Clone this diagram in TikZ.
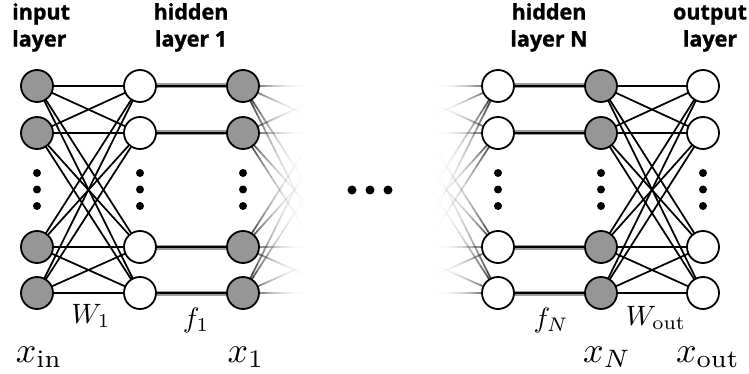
\documentclass[tikz,border=0pt]{standalone}
\usepackage{fontspec}
\setsansfont{Open Sans}[BoldFeatures={FakeBold=1.2}]
\usetikzlibrary{calc}
\pgfdeclarelayer{edges}
\pgfsetlayers{edges,main}

\definecolor{unitfill}{RGB}{150,150,150}
\definecolor{halo}{RGB}{155,155,155}

\newcommand{\varsize}[1]{\scalebox{3.6}{#1}}
\newcommand{\opsize}[1]{\scalebox{2.8}{#1}}

\tikzset{
  unit/.style={circle, draw=black, line width=1.8pt, minimum size=32pt, inner sep=0pt},
  filled/.style={unit, fill=unitfill},
  hollow/.style={unit, fill=white},
  vdot/.style={circle, fill=black, inner sep=0pt, minimum size=8pt},
  hdot/.style={circle, fill=black, inner sep=0pt, minimum size=9pt},
  weight/.style={line width=1.75pt, black},
  actglow/.style={line width=5pt, halo},
  actcore/.style={line width=2pt, black},
  fadeedge/.style={line width=1.75pt, black},
  layertitle/.style={font=\sffamily\bfseries\fontsize{21.5}{27}\selectfont, inner sep=0pt, align=center, anchor=north},
  varlabel/.style={inner sep=0pt, anchor=base},
}

\begin{document}
\begin{tikzpicture}[x=1pt,y=-1pt]
\useasboundingbox (0,0) rectangle (749,374);

% units of the six drawn columns, plus the positions of the omitted layers
\foreach \r/\y in {1/86,2/133,3/247,4/293}{
  \node[filled] (in-\r)  at (37,\y)  {};
  \node[hollow] (h1-\r)  at (140,\y) {};
  \node[filled] (x1-\r)  at (243,\y) {};
  \node[hollow] (hN-\r)  at (498,\y) {};
  \node[filled] (xN-\r)  at (601,\y) {};
  \node[hollow] (out-\r) at (703,\y) {};
  \coordinate (nx-\r) at (346,\y);
  \coordinate (pv-\r) at (395,\y);
}

% vertical ellipses inside each column
\foreach \c/\x in {in/37, h1/140, x1/243, hN/498, xN/601, out/703}{
  \foreach \k/\y in {a/173, b/189.5, c/206}{
    \node[vdot] (\c-dot\k) at (\x,\y) {};
  }
}

% horizontal ellipsis between the layer groups
\node[hdot] (gap-1) at (352,190) {};
\node[hdot] (gap-2) at (370,190) {};
\node[hdot] (gap-3) at (388,190) {};

\begin{pgfonlayer}{edges}
  \foreach \i in {1,...,4}{
    \foreach \j in {1,...,4}{
      \draw[weight] (in-\i.center) -- (h1-\j.center);
      \draw[weight] (xN-\i.center) -- (out-\j.center);
      % connections that fade out towards the omitted layers
      \foreach \k in {0,...,19}{
        \pgfmathsetmacro\ta{\k/20*0.7}
        \pgfmathsetmacro\tb{(\k+1)/20*0.7}
        \pgfmathsetmacro\op{(1-(\k+0.5)/20)^2.6}
        \draw[fadeedge, draw opacity=\op] ($(x1-\i)!\ta!(nx-\j)$) -- ($(x1-\i)!\tb!(nx-\j)$);
        \draw[fadeedge, draw opacity=\op] ($(hN-\i)!\ta!(pv-\j)$) -- ($(hN-\i)!\tb!(pv-\j)$);
      }
    }
    \draw[actglow] (h1-\i.center) -- (x1-\i.center);
    \draw[actcore] (h1-\i.center) -- (x1-\i.center);
    \draw[actglow] (hN-\i.center) -- (xN-\i.center);
    \draw[actcore] (hN-\i.center) -- (xN-\i.center);
  }
\end{pgfonlayer}

% layer titles
\node[layertitle, align=left, anchor=north west] (t-in) at (12,3) {input\\layer};
\node[layertitle] (t-h1) at (191,3) {hidden\\layer 1};
\node[layertitle] (t-hN) at (549,3) {hidden\\layer N};
\node[layertitle] (t-out) at (710,3) {\vphantom{h}output\\layer};

% variables and operators
\node[varlabel] (lbl-xin)  at (39,362)  {\varsize{$x_{\mathrm{in}}$}};
\node[varlabel] (lbl-x1)   at (246,362) {\varsize{$x_1$}};
\node[varlabel] (lbl-xN)   at (607,362) {\varsize{$x_N$}};
\node[varlabel] (lbl-xout) at (708,362) {\varsize{$x_{\mathrm{out}}$}};
\node[varlabel] (lbl-W1)   at (91,323)  {\opsize{$W_1$}};
\node[varlabel] (lbl-f1)   at (196,327) {\opsize{$f_1$}};
\node[varlabel] (lbl-fN)   at (551,327) {\opsize{$f_N$}};
\node[varlabel] (lbl-Wout) at (656,325) {\opsize{$W_{\mathrm{out}}$}};
\end{tikzpicture}
\end{document}
